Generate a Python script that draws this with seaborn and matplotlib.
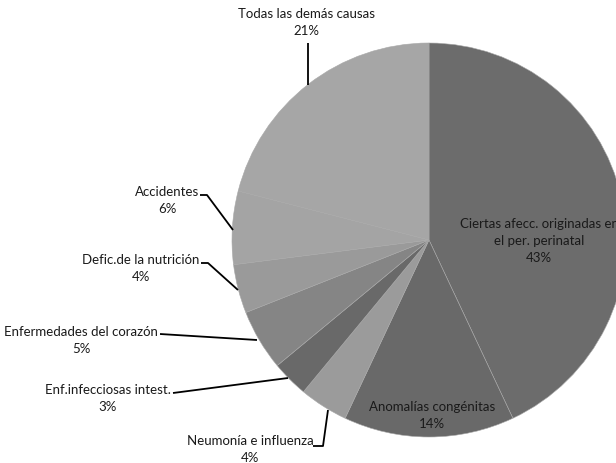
import matplotlib
matplotlib.use("Agg")
import matplotlib.pyplot as plt
import seaborn as sns

# ---- data ----
causes = [
    "Ciertas afecc. originadas en\nel per. perinatal",
    "Anomalías congénitas",
    "Neumonía e influenza",
    "Enf.infecciosas intest.",
    "Enfermedades del corazón",
    "Defic.de la nutrición",
    "Accidentes",
    "Todas las demás causas",
]
percents = [43, 14, 4, 3, 5, 4, 6, 21]

# ---- style ----
colors = ["#6c6c6c", "#696969", "#9b9b9b", "#696969",
          "#858585", "#9a9a9a", "#a4a4a4", "#a6a6a6"]

sns.set_theme(style="white")
plt.rcParams["font.family"] = ["Lato", "DejaVu Sans"]

W, H, DPI = 616, 463, 100
CX, CY, R = 429, 240, 197  # pie centre/radius in pixels


def px(x, y):
    """pixel (from top-left) -> data coordinates"""
    return (x - CX) / R, (CY - y) / R


fig = plt.figure(figsize=(W / DPI, H / DPI), dpi=DPI)
ax = fig.add_axes([0, 0, 1, 1])
ax.pie(percents, colors=colors, startangle=90, counterclock=False,
       radius=1, center=(0, 0),
       wedgeprops=dict(linewidth=0.4, edgecolor="#a8a8a8"))
x0, y0 = px(0, H)
x1, y1 = px(W, 0)
ax.set_xlim(x0, x1)
ax.set_ylim(y0, y1)
ax.set_aspect("auto")
ax.axis("off")

# label layout: (text centre x, first line y) in pixels, leader polyline in pixels
layout = [
    ((539, 224), None),
    ((432, 407), None),
    ((250, 441), [(313, 446), (323, 446), (328, 410)]),
    ((108, 390), [(173, 393), (288, 378)]),
    ((81, 332), [(160, 334), (257, 340)]),
    ((141, 260), [(201, 263), (208, 263), (238, 290)]),
    ((167, 192), [(200, 195), (207, 195), (233, 230)]),
    ((306, 14), [(308, 43), (308, 85)]),
]

fs = 9.5
line_h = 17
for name, pct, ((tx, ty), leader) in zip(causes, percents, layout):
    lines = name.split("\n") + [f"{pct}%"]
    for i, s in enumerate(lines):
        xx, yy = px(tx, ty + i * line_h)
        ax.text(xx, yy, s, ha="center", va="center", fontsize=fs,
                color="#1a1a1a")
    if leader:
        xs, ys = zip(*[px(a, b) for a, b in leader])
        ax.plot(xs, ys, color="black", lw=1.3, solid_capstyle="butt")

fig.savefig("out.png", dpi=DPI, facecolor="white")
